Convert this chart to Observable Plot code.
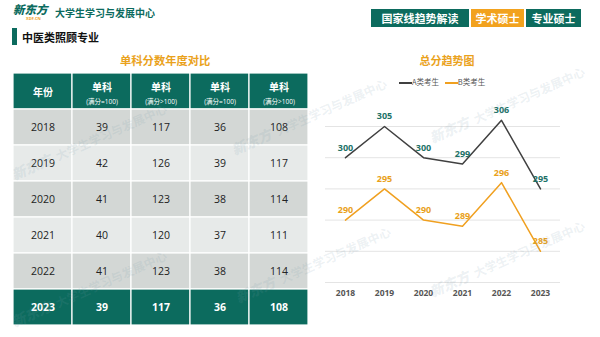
<!DOCTYPE html>
<html><head><meta charset="utf-8">
<script src="https://cdn.jsdelivr.net/npm/d3@7"></script>
<script src="https://cdn.jsdelivr.net/npm/@observablehq/plot@0.6"></script>
<style>
body{margin:0;width:600px;height:337px;overflow:hidden;background:#fff;font-family:"Open Sans","Noto Sans CJK SC",sans-serif;position:relative}
.abs{position:absolute;white-space:nowrap}
.btn{position:absolute;top:9px;height:18px;line-height:18px;color:#fff;font-weight:bold;font-size:11px;text-align:center;font-family:"Noto Sans CJK SC",sans-serif}
.wm{position:absolute;white-space:nowrap;transform-origin:0 50%;transform:rotate(-24deg);color:rgba(120,155,170,0.14);font-weight:bold;font-size:12px;font-family:"Noto Sans CJK SC",sans-serif;pointer-events:none}
.wm b{font-style:italic;font-size:14px;margin-right:6px}
</style></head><body>
<div class="abs" style="left:13px;top:3px;font-family:'Noto Sans CJK SC';font-weight:900;font-style:italic;font-size:11.5px;color:#0c6b5e;line-height:13px">新东方</div>
<div class="abs" style="left:26px;top:17px;font-size:4px;color:#f0a020;font-weight:bold;line-height:4px">XDF.CN</div>
<div class="abs" style="left:55px;top:6px;font-family:'Noto Sans CJK SC';font-weight:bold;font-size:10px;color:#0c6b5e;line-height:14px">大学生学习与发展中心</div>
<div class="abs" style="left:12px;top:28px;width:4.5px;height:17px;background:#0c6b5e"></div>
<div class="abs" style="left:22px;top:29px;font-family:'Noto Sans CJK SC';font-weight:bold;font-size:11px;color:#111;line-height:16px">中医类照顾专业</div>
<div class="btn" style="left:371px;width:98px;background:#0c6b5e">国家线趋势解读</div>
<div class="btn" style="left:471px;width:53px;background:#f2a21e">学术硕士</div>
<div class="btn" style="left:526px;width:55px;background:#0c6b5e">专业硕士</div>
<div class="abs" style="left:120px;top:51px;width:90px;text-align:center;font-family:'Noto Sans CJK SC';font-weight:bold;font-size:11.3px;color:#eaa21c;line-height:18px">单科分数年度对比</div>
<div class="abs" style="left:400px;top:51px;width:94px;text-align:center;font-family:'Noto Sans CJK SC';font-weight:bold;font-size:11px;color:#eaa21c;line-height:18px">总分趋势图</div>
<div class="abs" style="left:399px;top:76px;font-size:7.5px;color:#555;line-height:11px;font-family:'Noto Sans CJK SC'">
<span style="display:inline-block;width:13px;height:1.5px;background:#404040;vertical-align:middle"></span>A类考生
<span style="display:inline-block;width:13px;height:1.5px;background:#f0a020;vertical-align:middle;margin-left:4px"></span>B类考生</div>
<div id="table" class="abs" style="left:11.7px;top:72px"></div>
<div id="chart" class="abs" style="left:300px;top:90px"></div>
<div class="wm" style="left:12px;top:165px"><b>新东方</b>大学生学习与发展中心</div>
<div class="wm" style="left:232px;top:140px"><b>新东方</b>大学生学习与发展中心</div>
<div class="wm" style="left:430px;top:128px"><b>新东方</b>大学生学习与发展中心</div>
<div class="wm" style="left:12px;top:312px"><b>新东方</b>大学生学习与发展中心</div>
<div class="wm" style="left:236px;top:288px"><b>新东方</b>大学生学习与发展中心</div>
<div class="wm" style="left:430px;top:282px"><b>新东方</b>大学生学习与发展中心</div>
<script>
const years = ["2018","2019","2020","2021","2022","2023"];
const colHeads = ["年份","单科","单科","单科","单科"];
const colSubs = ["","(满分=100)","(满分>100)","(满分=100)","(满分>100)"];
const subjA100 = [39,42,41,40,41,39];
const subjA150 = [117,126,123,120,123,117];
const subjB100 = [36,39,38,37,38,36];
const subjB150 = [108,117,114,111,114,108];
const totalA = [300,305,300,299,306,295];
const totalB = [290,295,290,289,296,285];

const teal = "#0c6b5e", orange = "#f0a020";
const rowKeys = ["h", ...years];
const cells = [];
rowKeys.forEach((r, ri) => {
  for (let c = 0; c < 5; c++) {
    let fill;
    if (r === "h" || r === "2023") fill = teal;
    else fill = (ri % 2 === 1) ? "#d3d7d5" : "#e7eae9";
    let text = "";
    if (r !== "h") {
      const i = years.indexOf(r);
      text = c === 0 ? r : String([subjA100, subjA150, subjB100, subjB150][c - 1][i]);
    }
    cells.push({row: r, col: c, fill, text, head: colHeads[c], sub: colSubs[c]});
  }
});
const font = "'Open Sans','Noto Sans CJK SC',sans-serif";
const table = Plot.plot({
  width: 297, height: 253,
  margin: 0,
  x: {type: "band", domain: [0,1,2,3,4], padding: 0, axis: null},
  y: {type: "band", domain: rowKeys, padding: 0, axis: null},
  color: {type: "identity"},
  style: {fontFamily: font, background: "transparent"},
  marks: [
    Plot.cell(cells, {x: "col", y: "row", fill: "fill", stroke: "#fff", strokeWidth: 1.2}),
    Plot.text(cells.filter(d => d.row !== "h" && d.row !== "2023"), {x: "col", y: "row", text: "text", fill: "#222", fontSize: 10.5}),
    Plot.text(cells.filter(d => d.row === "2023"), {x: "col", y: "row", text: "text", fill: "#fff", fontSize: 10.5, fontWeight: "bold"}),
    Plot.text(cells.filter(d => d.row === "h" && d.col === 0), {x: "col", y: "row", text: "head", fill: "#fff", fontSize: 10, fontWeight: "bold", dy: 1}),
    Plot.text(cells.filter(d => d.row === "h" && d.col > 0), {x: "col", y: "row", text: "head", fill: "#fff", fontSize: 10, fontWeight: "bold", dy: -4}),
    Plot.text(cells.filter(d => d.row === "h" && d.col > 0), {x: "col", y: "row", text: "sub", fill: "#fff", fontSize: 6.5, dy: 10.5})
  ]
});
document.getElementById("table").appendChild(table);

const lineData = [
  ...years.map((y, i) => ({year: y, value: totalA[i], series: "A类考生"})),
  ...years.map((y, i) => ({year: y, value: totalB[i], series: "B类考生"}))
];
const gridTicks = [280, 285, 290, 295, 300, 305];
const chart = Plot.plot({
  width: 280, height: 215,
  marginLeft: 25, marginRight: 20, marginTop: 4.8, marginBottom: 23,
  x: {type: "point", domain: years, padding: 0.5, tickSize: 0, tickPadding: 7, label: null},
  y: {domain: [280, 310], axis: null},
  style: {fontFamily: font, fontSize: "8.5px", fontWeight: "bold", color: "#555", background: "transparent"},
  marks: [
    Plot.ruleY(gridTicks, {stroke: "#e4e4e4", strokeWidth: 1}),
    Plot.line(lineData.filter(d => d.series === "A类考生"), {x: "year", y: "value", stroke: "#404040", strokeWidth: 1.5}),
    Plot.line(lineData.filter(d => d.series === "B类考生"), {x: "year", y: "value", stroke: orange, strokeWidth: 1.5}),
    Plot.text(lineData.filter(d => d.series === "A类考生"), {x: "year", y: "value", text: d => String(d.value), dy: -10, fill: "#1d7268", fontSize: 9, fontWeight: "bold"}),
    Plot.text(lineData.filter(d => d.series === "B类考生"), {x: "year", y: "value", text: d => String(d.value), dy: -10, fill: "#e9a11a", fontSize: 9, fontWeight: "bold"})
  ]
});
document.getElementById("chart").appendChild(chart);
</script>
</body></html>
